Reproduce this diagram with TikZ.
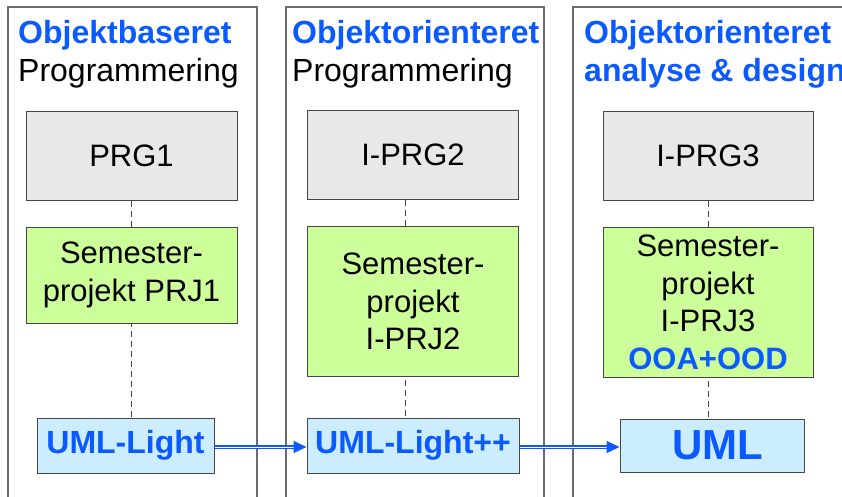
\documentclass[tikz,border=0pt]{standalone}
\usepackage{fontspec}
\setmainfont{Liberation Sans}
\usetikzlibrary{arrows.meta, positioning, backgrounds}

\definecolor{headblue}{RGB}{10,90,255}
\definecolor{kursgrey}{RGB}{232,232,232}
\definecolor{projgreen}{RGB}{204,255,153}
\definecolor{umlfill}{RGB}{204,236,255}
\definecolor{framegrey}{RGB}{70,70,70}

\begin{document}
\begin{tikzpicture}[
    x=1pt, y=-1pt,
    node distance=26pt,
    txt/.style={font=\fontsize{31}{37.5}\selectfont},
    head/.style={font=\fontsize{32}{38}\selectfont, anchor=north west, inner sep=0pt, align=left},
    column/.style={draw=framegrey!80, line width=1.3pt},
    kursus/.style={txt, rectangle, draw=framegrey, line width=1pt, fill=kursgrey, minimum width=211pt, minimum height=89pt},
    projekt/.style={txt, rectangle, draw=framegrey, line width=1pt, fill=projgreen, minimum width=211pt, inner sep=4pt, align=center},
    umlbox/.style={rectangle, draw=framegrey, line width=1pt, fill=umlfill, text=headblue, font=\fontsize{32}{37.5}\selectfont\bfseries, minimum height=55pt},
    link/.style={draw=framegrey, line width=0.9pt, dash pattern=on 6pt off 4pt},
    flow/.style={draw=headblue, double=white, line width=1.2pt, double distance=1pt, -{Triangle[length=13pt,width=12pt]}}
  ]
    \path[use as bounding box] (0,0) rectangle (842,496);
    \clip (0,0) rectangle (842,496);

    % columns
    \draw[column] (8,7) rectangle (257,520);
    \draw[column] (286,7) rectangle (544,520);
    \draw[column] (573,7) rectangle (900,520);

    \node[head] (h1) at (18,20) {\textcolor{headblue}{\bfseries Objektbaseret}\\Programmering};
    \node[head] (h2) at (292,20) {\textcolor{headblue}{\bfseries Objektorienteret}\\Programmering};
    \node[head, text=headblue, font=\fontsize{32}{38}\selectfont\bfseries] (h3) at (584,20) {Objektorienteret\\analyse \& design};

    % courses
    \node[kursus] (prg1) at (131.5,155.5) {PRG1};
    \node[kursus] (iprg2) at (413,155) {I-PRG2};
    \node[kursus, minimum width=210pt] (iprg3) at (708,156) {I-PRG3};

    % projects
    \node[projekt, minimum height=96pt, below=of prg1] (prj1) {Semester-\\projekt PRJ1};
    \node[projekt, minimum height=150pt, below=of iprg2] (iprj2) {Semester-\\projekt\\I-PRJ2};
    \node[projekt, minimum width=210pt, minimum height=150pt, inner sep=2pt, below=of iprg3] (iprj3) {Semester-\\projekt\\I-PRJ3\\\textcolor{headblue}{\bfseries OOA+OOD}};

    % uml
    \node[umlbox, minimum width=177pt] (umll) at (125.5,445.5) {UML-Light};
    \node[umlbox, minimum width=212pt] (umlpp) at (413,445.5) {UML-Light++};
    \node[umlbox, minimum width=184pt, minimum height=53pt, font=\fontsize{42}{48}\selectfont\bfseries] (uml) at (712,445.5) {\hspace*{12pt}UML};

    \begin{scope}[on background layer]
      \draw[link] (prg1.south) -- (prg1.south |- umll.north);
      \draw[link] ([xshift=-8pt]iprg2.south) -- ([xshift=-8pt]iprg2.south |- umlpp.north);
      \draw[link] (iprg3.south) -- (iprg3.south |- uml.north);
    \end{scope}

    \draw[flow] ([yshift=-1.5pt]umll.east) -- ([yshift=-1.5pt]umlpp.west);
    \draw[flow] ([yshift=-1.5pt]umlpp.east) -- ([yshift=-1.5pt]uml.west);
\end{tikzpicture}
\end{document}
